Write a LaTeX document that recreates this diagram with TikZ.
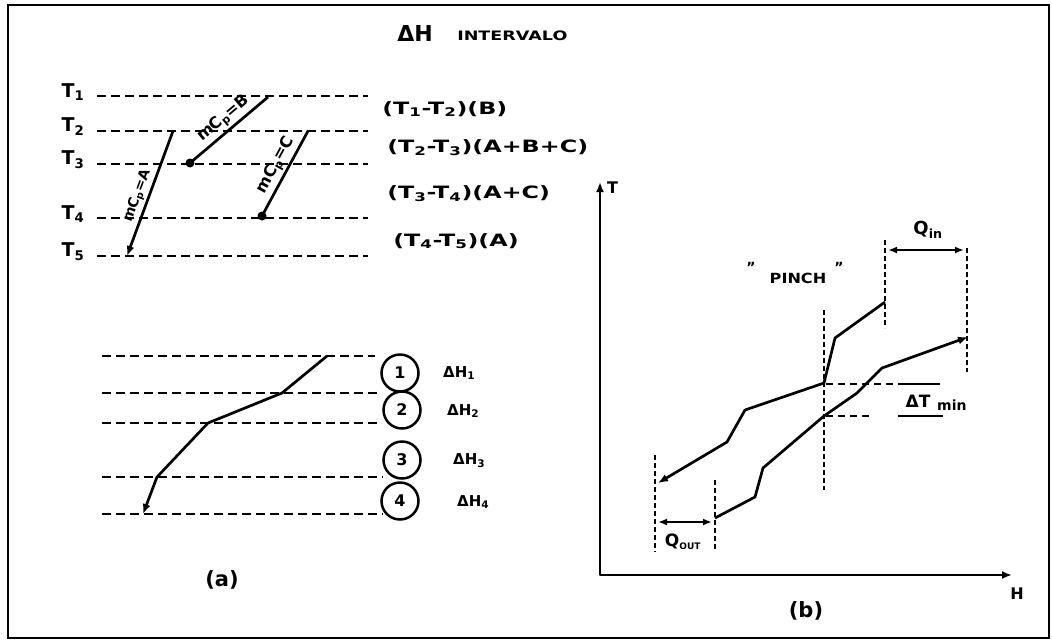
\documentclass[tikz,border=0pt]{standalone}
\usepackage{fontspec}
\setmainfont{DejaVu Sans}
\usetikzlibrary{arrows.meta}
\newcommand{\fsz}[1]{\fontsize{#1}{#1}\selectfont\bfseries}
\begin{document}
\begin{tikzpicture}[x=1pt,y=-1pt,
  every node/.style={inner sep=0pt},
  dl/.style={line width=2.3pt, dash pattern=on 9pt off 5pt},
  vd/.style={line width=2.3pt, dash pattern=on 5pt off 3pt},
  sl/.style={line width=2.7pt, line join=round},
  tipend/.style={-{Latex[length=10pt,width=8pt]}},
  dtip/.style={{Latex[length=9pt,width=7pt]}-{Latex[length=9pt,width=7pt]}},
  tl/.style={font=\fsz{19}},
  il/.style={font=\fsz{17}, anchor=west, xscale=1.4},
  ml/.style={sloped, above=2pt},
  dot/.style={circle, fill=black, minimum size=9pt},
  num/.style={circle, draw, line width=2.5pt, minimum size=37pt, font=\fsz{16}},
  dhl/.style={font=\fsz{15}, anchor=west},
  captxt/.style={font=\fsz{21}}
]
\useasboundingbox (0,0) rectangle (1052,641);
\draw[line width=2.4pt] (8,5) rectangle (1049,638);

% title
\node[font=\fsz{22}] (dH) at (415,33) {ΔH};
\node[font=\fsz{13}, anchor=west, xscale=1.35] (intv) at (457,36) {INTERVALO};

% (a) top: temperature levels
\foreach \i/\y in {1/96,2/131,3/164,4/218,5/256}{
  \coordinate (L\i) at (97,\y);
  \coordinate (R\i) at (368,\y);
  \draw[dl] (L\i) -- (R\i);
  \node[tl] (T\i) at (73,\y-4) {T\textsubscript{\i}};
}

% streams
\coordinate (Atop) at (173,131); \coordinate (Abot) at (127,256);
\coordinate (Btop) at (268,97);  \coordinate (Bbot) at (190,163);
\coordinate (Ctop) at (308,131); \coordinate (Cbot) at (262,216);
\draw[sl, tipend] (Atop) -- node[ml, pos=0.55, font=\fsz{14}] (mA) {mC\textsubscript{p}=A} (Abot);
\draw[sl] (Btop) -- node[ml, pos=0.47, font=\fsz{16}] (mB) {mC\textsubscript{p}=B} (Bbot);
\draw[sl] (Ctop) -- node[ml, pos=0.47, font=\fsz{16}] (mC) {mC\textsubscript{p}=C} (Cbot);
\node[dot] (dB) at (Bbot) {};
\node[dot] (dC) at (Cbot) {};

% interval labels
\node[il] (i1) at (382,109) {(T\textsubscript{1}-T\textsubscript{2})(B)};
\node[il] (i2) at (387,148) {(T\textsubscript{2}-T\textsubscript{3})(A+B+C)};
\node[il] (i3) at (387,194) {(T\textsubscript{3}-T\textsubscript{4})(A+C)};
\node[il] (i4) at (393,241) {(T\textsubscript{4}-T\textsubscript{5})(A)};

% (a) bottom: composite curve
\foreach \i/\y/\xe in {1/356/375,2/393/378,3/423/380,4/477/383,5/514/383}{
  \coordinate (bl\i) at (102,\y);
  \coordinate (br\i) at (\xe,\y);
  \draw[dl] (bl\i) -- (br\i);
}
\coordinate (p1) at (327,356);
\coordinate (p2) at (282,393);
\coordinate (p3) at (208,423);
\coordinate (p4) at (157,477);
\coordinate (p5) at (143,514);
\draw[sl, tipend] (p1) -- (p2) -- (p3) -- (p4) -- (p5);

\node[num] (c1) at (400,373) {1};
\node[num] (c2) at (402,410) {2};
\node[num] (c3) at (402,460) {3};
\node[num] (c4) at (400,501) {4};
\node[dhl] (h1) at (443,373) {ΔH\textsubscript{1}};
\node[dhl] (h2) at (447,411) {ΔH\textsubscript{2}};
\node[dhl] (h3) at (453,461) {ΔH\textsubscript{3}};
\node[dhl] (h4) at (457,502) {ΔH\textsubscript{4}};

\node[captxt] (capa) at (222,580) {(a)};

% (b) axes
\coordinate (O) at (600,575);
\coordinate (Ttop) at (600,182);
\coordinate (Hend) at (1012,575);
\draw[sl, {Latex[length=10pt,width=8pt]}-{Latex[length=10pt,width=8pt]}] (Ttop) -- (O) -- (Hend);
\node[font=\fsz{16}, anchor=west] (Tax) at (607,188) {T};
\node[font=\fsz{16}] (Hax) at (1017,594) {H};

% vertical dashed guides
\coordinate (qo1a) at (655,455); \coordinate (qo1b) at (655,552);
\coordinate (qo2a) at (715,480); \coordinate (qo2b) at (715,550);
\coordinate (pa) at (824,310);   \coordinate (pb) at (824,490);
\coordinate (qi1a) at (885,240); \coordinate (qi1b) at (885,328);
\coordinate (qi2a) at (967,248); \coordinate (qi2b) at (967,372);
\draw[vd] (qo1a) -- (qo1b);
\draw[vd] (qo2a) -- (qo2b);
\draw[vd] (pa) -- (pb);
\draw[vd] (qi1a) -- (qi1b);
\draw[vd] (qi2a) -- (qi2b);

% Q arrows
\coordinate (qoL) at (658,522); \coordinate (qoR) at (712,522);
\coordinate (qiL) at (888,250); \coordinate (qiR) at (964,250);
\draw[sl, dtip] (qoL) -- (qoR);
\draw[sl, dtip] (qiL) -- (qiR);
\node[font=\fsz{17}] (Qout) at (683,542) {Q\textsubscript{\fsz{9}OUT}};
\node[font=\fsz{18}] (Qin) at (928,230) {Q\textsubscript{in}};

% hot curve
\coordinate (h1a) at (885,302);
\coordinate (h2a) at (835,338);
\coordinate (h3a) at (824,383);
\coordinate (h4a) at (745,410);
\coordinate (h5a) at (727,442);
\coordinate (h6a) at (658,483);
\draw[sl, tipend] (h1a) -- (h2a) -- (h3a) -- (h4a) -- (h5a) -- (h6a);

% cold curve
\coordinate (k1) at (715,518);
\coordinate (k2) at (755,497);
\coordinate (k3) at (763,468);
\coordinate (k4) at (824,416);
\coordinate (k5) at (857,393);
\coordinate (k6) at (882,368);
\coordinate (k7) at (968,337);
\draw[sl, tipend] (k1) -- (k2) -- (k3) -- (k4) -- (k5) -- (k6) -- (k7);

% Delta T min
\coordinate (u1) at (826,384); \coordinate (u2) at (900,384); \coordinate (u3) at (940,384);
\coordinate (w1) at (826,416); \coordinate (w2) at (872,416);
\coordinate (w3) at (898,416); \coordinate (w4) at (943,416);
\draw[line width=2pt, dash pattern=on 7pt off 5pt] (u1) -- (u2);
\draw[line width=2pt] (u2) -- (u3);
\draw[line width=2pt, dash pattern=on 7pt off 5pt] (w1) -- (w2);
\draw[line width=2pt] (w3) -- (w4);
\node[font=\fsz{17}] (dT) at (918,401) {ΔT};
\node[font=\fsz{14}, anchor=west] (dTmin) at (937,405) {min};

% pinch
\node[font=\fsz{14}, xscale=1.15] (pinch) at (798,278) {PINCH};
\node[font=\fsz{14}] (q1) at (751,267) {"};
\node[font=\fsz{14}] (q2) at (839,267) {"};

\node[captxt] (capb) at (806,611) {(b)};
\end{tikzpicture}
\end{document}
